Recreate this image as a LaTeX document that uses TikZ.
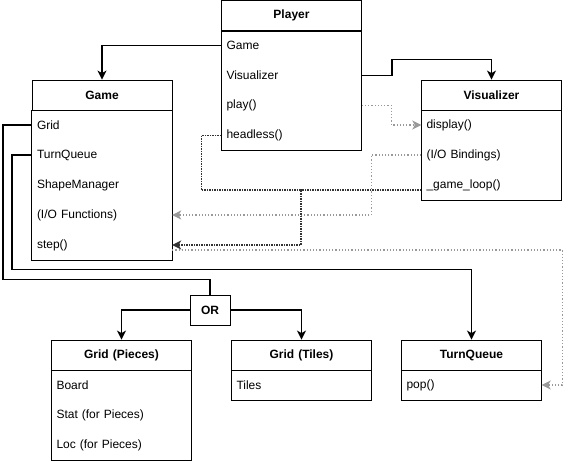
\documentclass[tikz,border=0pt]{standalone}
\usepackage{fontspec}
\setmainfont{Liberation Sans}
\usetikzlibrary{calc,arrows.meta}

\tikzset{
  head/.style={draw, line width=.8pt, font=\fontsize{12}{14}\selectfont\bfseries, text width=130pt, align=center, inner sep=5pt, minimum height=30pt},
  item/.style={font=\fontsize{12}{14}\selectfont, text width=130pt, align=left, inner sep=5pt, minimum height=30pt},
  box/.style={line width=.8pt},
  link/.style={line width=1.6pt, -{Stealth[length=9pt,width=9pt,inset=2.5pt]}},
  wire/.style={line width=1.6pt},
  call/.style={line width=1.5pt, black!80, densely dotted, -{Stealth[length=9pt,width=9pt,inset=2.5pt]}},
  hint/.style={line width=1.2pt, black!40, dotted, -{Stealth[length=9pt,width=9pt,inset=2.5pt]}},
}

\begin{document}
\begin{tikzpicture}[x=1pt,y=-1pt]
            \useasboundingbox (0,0) rectangle (570,461);

            % classes
            \node[head] (player) at (291.5,15.5) {Player};
            \foreach \n/\t [count=\k] in {pgame/Game,pvis/Visualizer,pplay/play(),phead/headless()}
              \node[item] (\n) at ($(player)+(0,30*\k)$) {\t};
            \draw[box] (player.south west) rectangle (phead.south east);

            \node[head] (game) at (102,95) {Game};
            \foreach \n/\t [count=\k] in {ggrid/Grid,gtq/TurnQueue,gshape/ShapeManager,gio/{(I/O Functions)},gstep/step()}
              \node[item] (\n) at ($(game)+(0,30*\k)$) {\t};
            \draw[box] (game.south west) rectangle (gstep.south east);

            \node[head] (vis) at (491.5,95) {Visualizer};
            \foreach \n/\t [count=\k] in {vdisp/display(),vio/{(I/O Bindings)},vloop/\_game\_loop()}
              \node[item] (\n) at ($(vis)+(0,30*\k)$) {\t};
            \draw[box] (vis.south west) rectangle (vloop.south east);

            \node[head] (pieces) at (121.5,355) {Grid (Pieces)};
            \foreach \n/\t [count=\k] in {pboard/Board,pstat/Stat (for Pieces),ploc/Loc (for Pieces)}
              \node[item] (\n) at ($(pieces)+(0,30*\k)$) {\t};
            \draw[box] (pieces.south west) rectangle (ploc.south east);

            \node[head] (tiles) at (301.5,355) {Grid (Tiles)};
            \node[item] (ttiles) at ($(tiles)+(0,30)$) {Tiles};
            \draw[box] (tiles.south west) rectangle (ttiles.south east);

            \node[head] (tq) at (471.5,355) {TurnQueue};
            \node[item] (tqpop) at ($(tq)+(0,30)$) {pop()};
            \draw[box] (tq.south west) rectangle (tqpop.south east);

            \node[head, text width=30pt] (or) at (210,310) {OR};

            % ownership
            \draw[link] (pgame.west) -| (game.north);
            \draw[link] (pvis.east) -- ++(30,0) |- ($(vis.north)+(0,-20)$) -- (vis.north);
            \draw[wire] (ggrid.west) -- ++(-29,0) |- ($(or.north)+(0,-15)$) -- (or.north);
            \draw[link] (or.west) -| (pieces.north);
            \draw[link] (or.east) -| (tiles.north);
            \draw[link] (gtq.west) -- ++(-20,0) |- ($(tq.north)+(0,-70)$) -- (tq.north);

            % calls
            \coordinate (merge) at (301,190);
            \coordinate (loopout) at ($(vloop.west)+(0,5)$);
            \coordinate (stepout) at ($(gstep.east)+(0,5)$);
            \draw[hint] (pplay.east) -- ++(30,0) |- (vdisp.west);
            \draw[hint] (vio.west) -- ++(-50,0) |- (gio.east);
            \draw[hint] (stepout) -- ++(390,0) |- (tqpop.east);
            \draw[call] (phead.west) -- ++(-20,0) |- (merge) |- (gstep.east);
            \draw[call,-] (loopout) -- (merge);

        \end{tikzpicture}
\end{document}
